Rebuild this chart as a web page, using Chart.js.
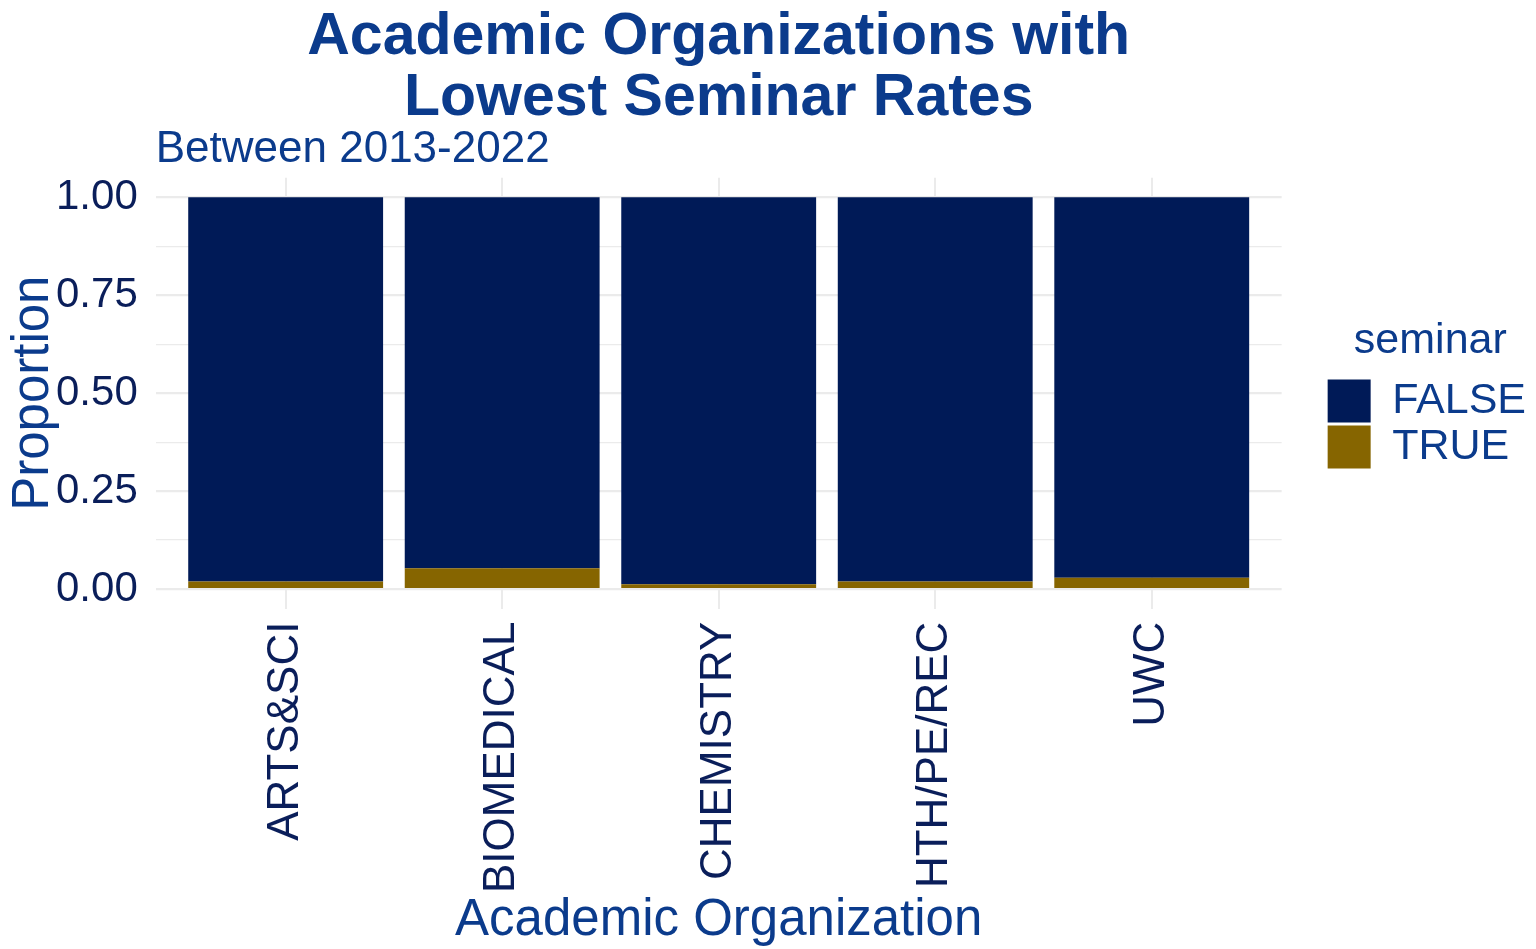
<!DOCTYPE html>
<html>
<head>
<meta charset="utf-8">
<script src="https://cdn.jsdelivr.net/npm/chart.js@4"></script>
<style>
html,body{margin:0;padding:0;background:#fff;}
#wrap{width:1536px;height:949px;position:relative;}
</style>
</head>
<body>
<div id="wrap"><canvas id="c" width="1536" height="949"></canvas></div>
<script>
const categories = ["ARTS&SCI", "BIOMEDICAL", "CHEMISTRY", "HTH/PE/REC", "UWC"];
const trueProp  = [0.019, 0.053, 0.012, 0.019, 0.029];
const falseProp = [0.981, 0.947, 0.988, 0.981, 0.971];
const yTicks = [0, 0.125, 0.25, 0.375, 0.5, 0.625, 0.75, 0.875, 1];
const titleLines = ["Academic Organizations with", "Lowest Seminar Rates"];
const subtitleText = "Between 2013-2022";

const FONT = "'Liberation Sans', Arial, sans-serif";
const navy = "#001A57";
const gold = "#866500";
const blueText = "#0B3B8C";
const tickColor = "#0A1E5A";
const gridColor = "#EBEBEB";

const toPts = arr => arr.map((v, i) => ({x: i, y: v}));
const isMajor = v => Math.abs(v * 4 - Math.round(v * 4)) < 1e-6;

new Chart(document.getElementById('c'), {
  type: 'bar',
  data: {
    datasets: [
      {label: 'TRUE', data: toPts(trueProp), backgroundColor: gold, borderWidth: 0},
      {label: 'FALSE', data: toPts(falseProp), backgroundColor: navy, borderWidth: 0}
    ]
  },
  options: {
    responsive: false,
    animation: false,
    devicePixelRatio: 1,
    layout: {padding: {left: 4, right: 0, top: 0, bottom: 3}},
    datasets: {bar: {barPercentage: 0.9, categoryPercentage: 1.0}},
    scales: {
      x: {
        type: 'linear', stacked: true, min: -0.6, max: 4.6, offset: false,
        afterBuildTicks: s => { s.ticks = categories.map((c, i) => ({value: i})); },
        grid: {color: gridColor, lineWidth: 2, drawTicks: false, offset: false},
        border: {display: false},
        ticks: {
          autoSkip: false, minRotation: 90, maxRotation: 90, padding: 13,
          color: tickColor, font: {family: FONT, size: 44},
          callback: v => categories[v]
        },
        title: {display: true, text: 'Academic Organization', color: blueText,
          font: {family: FONT, size: 51, lineHeight: 1.0}, padding: {top: -11, bottom: 0}}
      },
      y: {
        stacked: true, min: -0.05, max: 1.05,
        afterBuildTicks: s => { s.ticks = yTicks.map(v => ({value: v})); },
        grid: {
          color: gridColor, drawTicks: false,
          lineWidth: ctx => (isMajor(ctx.tick.value) ? 2.2 : 1.2)
        },
        border: {display: false},
        ticks: {
          padding: 18, color: tickColor, font: {family: FONT, size: 42},
          callback: v => (isMajor(v) ? v.toFixed(2) : '')
        },
        title: {display: true, text: 'Proportion', color: blueText,
          font: {family: FONT, size: 51, lineHeight: 1.0}, padding: {top: 4, bottom: -21}}
      },
      gap: {
        type: 'linear', position: 'right', display: true,
        grid: {display: false, drawTicks: false}, border: {display: false},
        ticks: {display: false},
        afterFit: s => { s.width = 43; }
      }
    },
    plugins: {
      title: {
        display: true, text: titleLines, color: blueText, fullSize: false,
        font: {family: FONT, size: 59, weight: 'bold', lineHeight: 1.04},
        padding: {top: 7, bottom: 0}
      },
      subtitle: {
        display: true, text: subtitleText, color: blueText, fullSize: false, align: 'start',
        font: {family: FONT, size: 44, lineHeight: 1.0},
        padding: {top: -2, bottom: 6}
      },
      legend: {
        display: true, position: 'right', fullSize: false, reverse: true,
        title: {display: true, text: 'seminar', color: blueText,
          font: {family: FONT, size: 43}, padding: 5},
        labels: {
          boxWidth: 43, boxHeight: 43, padding: 3, color: blueText,
          font: {family: FONT, size: 43}
        }
      },
      tooltip: {enabled: false}
    }
  }
});
</script>
</body>
</html>
